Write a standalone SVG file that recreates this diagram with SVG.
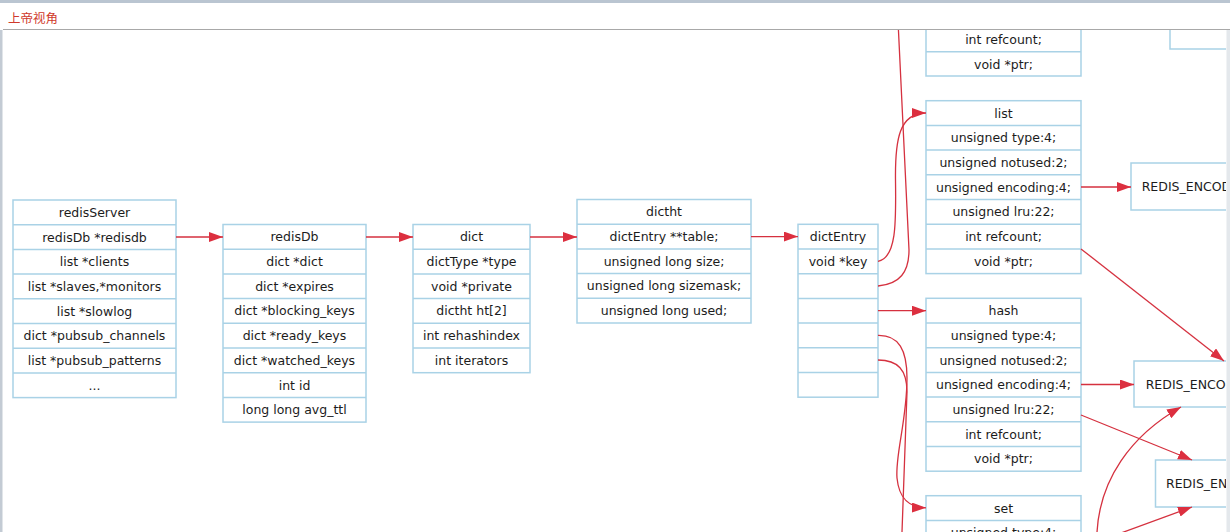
<svg xmlns="http://www.w3.org/2000/svg" width="1230" height="532" viewBox="0 0 1230 532">
<style>
.box{fill:#ffffff;stroke:#a9d2e6;stroke-width:1.5}
.sep{stroke:#a9d2e6;stroke-width:1.5}
.t{font-family:"DejaVu Sans","Liberation Sans",sans-serif;font-size:12.5px;fill:#1c1c1c;text-anchor:middle}
.tl{font-family:"DejaVu Sans","Liberation Sans",sans-serif;font-size:12.5px;fill:#1c1c1c}
.e{fill:none;stroke:#d5313f;stroke-width:1.3}
.title{font-family:"Noto Sans CJK SC","DejaVu Sans",sans-serif;font-size:12.5px;fill:#cf3a2c}
</style>
<defs>
<marker id="ah" viewBox="0 0 14 10" markerUnits="userSpaceOnUse" markerWidth="14" markerHeight="10" refX="14" refY="5" orient="auto">
<path d="M0,0 L14,5 L0,10 z" fill="#dc2f3f"/>
</marker>
<clipPath id="cr"><rect x="0" y="0" width="1226" height="532"/></clipPath>
</defs>
<rect x="0" y="0" width="1230" height="532" fill="#ffffff"/>
<g clip-path="url(#cr)">
<g id="redisServer">
<rect class="box" x="13" y="200" width="163" height="197.6"/>
<path class="sep" d="M13,224.7H176M13,249.4H176M13,274.1H176M13,298.8H176M13,323.5H176M13,348.2H176M13,372.9H176"/>
<text class="t" x="94.5" y="216.8">redisServer</text>
<text class="t" x="94.5" y="241.5">redisDb *redisdb</text>
<text class="t" x="94.5" y="266.2">list *clients</text>
<text class="t" x="94.5" y="290.9">list *slaves,*monitors</text>
<text class="t" x="94.5" y="315.6">list *slowlog</text>
<text class="t" x="94.5" y="340.3">dict *pubsub_channels</text>
<text class="t" x="94.5" y="365">list *pubsub_patterns</text>
<text class="t" x="94.5" y="389.7">...</text>
</g>
<g id="redisDb">
<rect class="box" x="223" y="224.5" width="143" height="197.6"/>
<path class="sep" d="M223,249.2H366M223,273.9H366M223,298.6H366M223,323.3H366M223,348H366M223,372.7H366M223,397.4H366"/>
<text class="t" x="294.5" y="241.3">redisDb</text>
<text class="t" x="294.5" y="266">dict *dict</text>
<text class="t" x="294.5" y="290.7">dict *expires</text>
<text class="t" x="294.5" y="315.4">dict *blocking_keys</text>
<text class="t" x="294.5" y="340.1">dict *ready_keys</text>
<text class="t" x="294.5" y="364.8">dict *watched_keys</text>
<text class="t" x="294.5" y="389.5">int id</text>
<text class="t" x="294.5" y="414.2">long long avg_ttl</text>
</g>
<g id="dict">
<rect class="box" x="413" y="224.5" width="117" height="148.2"/>
<path class="sep" d="M413,249.2H530M413,273.9H530M413,298.6H530M413,323.3H530M413,348H530"/>
<text class="t" x="471.5" y="241.3">dict</text>
<text class="t" x="471.5" y="266">dictType *type</text>
<text class="t" x="471.5" y="290.7">void *private</text>
<text class="t" x="471.5" y="315.4">dictht ht[2]</text>
<text class="t" x="471.5" y="340.1">int rehashindex</text>
<text class="t" x="471.5" y="364.8">int iterators</text>
</g>
<g id="dictht">
<rect class="box" x="577" y="199.5" width="174" height="123.5"/>
<path class="sep" d="M577,224.2H751M577,248.9H751M577,273.6H751M577,298.3H751"/>
<text class="t" x="664" y="216.3">dictht</text>
<text class="t" x="664" y="241">dictEntry **table;</text>
<text class="t" x="664" y="265.7">unsigned long size;</text>
<text class="t" x="664" y="290.4">unsigned long sizemask;</text>
<text class="t" x="664" y="315.1">unsigned long used;</text>
</g>
<g id="dictEntry">
<rect class="box" x="798" y="224.3" width="80" height="172.9"/>
<path class="sep" d="M798,249H878M798,273.7H878M798,298.4H878M798,323.1H878M798,347.8H878M798,372.5H878"/>
<text class="t" x="838" y="241.1">dictEntry</text>
<text class="t" x="838" y="265.8">void *key</text>
</g>
<g id="string">
<rect class="box" x="926" y="-22" width="155" height="98"/>
<path class="sep" d="M926,2.3H1081M926,27H1081M926,51.7H1081"/>
<text class="t" x="1003.5" y="43.8">int refcount;</text>
<text class="t" x="1003.5" y="68.5">void *ptr;</text>
</g>
<g id="list">
<rect class="box" x="926" y="100.7" width="155" height="172.9"/>
<path class="sep" d="M926,125.4H1081M926,150.1H1081M926,174.8H1081M926,199.5H1081M926,224.2H1081M926,248.9H1081"/>
<text class="t" x="1003.5" y="117.5">list</text>
<text class="t" x="1003.5" y="142.2">unsigned type:4;</text>
<text class="t" x="1003.5" y="166.9">unsigned notused:2;</text>
<text class="t" x="1003.5" y="191.6">unsigned encoding:4;</text>
<text class="t" x="1003.5" y="216.3">unsigned lru:22;</text>
<text class="t" x="1003.5" y="241">int refcount;</text>
<text class="t" x="1003.5" y="265.7">void *ptr;</text>
</g>
<g id="hash">
<rect class="box" x="926" y="298.3" width="155" height="172.9"/>
<path class="sep" d="M926,323H1081M926,347.7H1081M926,372.4H1081M926,397.1H1081M926,421.8H1081M926,446.5H1081"/>
<text class="t" x="1003.5" y="315.1">hash</text>
<text class="t" x="1003.5" y="339.8">unsigned type:4;</text>
<text class="t" x="1003.5" y="364.5">unsigned notused:2;</text>
<text class="t" x="1003.5" y="389.2">unsigned encoding:4;</text>
<text class="t" x="1003.5" y="413.9">unsigned lru:22;</text>
<text class="t" x="1003.5" y="438.6">int refcount;</text>
<text class="t" x="1003.5" y="463.3">void *ptr;</text>
</g>
<g id="set">
<rect class="box" x="926" y="495.7" width="155" height="80"/>
<path class="sep" d="M926,520.4H1081M926,545.1H1081"/>
<text class="t" x="1003.5" y="512.5">set</text>
<text class="t" x="1003.5" y="537.2">unsigned type:4;</text>
</g>
<g id="topright">
<rect class="box" x="1170" y="-40" width="120" height="89"/>
</g>
<g id="enc1">
<rect class="box" x="1131" y="163" width="130" height="47"/>
<text class="tl" x="1141.7" y="191">REDIS_ENCOD</text>
</g>
<g id="enc2">
<rect class="box" x="1134" y="361" width="130" height="46"/>
<text class="tl" x="1145.7" y="388.5">REDIS_ENCO</text>
</g>
<g id="enc3">
<rect class="box" x="1155.5" y="460" width="130" height="47"/>
<text class="tl" x="1166" y="488">REDIS_EN</text>
</g>
<g id="connectors">
<path class="e" marker-end="url(#ah)" d="M176,237H223"/>
<path class="e" marker-end="url(#ah)" d="M366,237H413"/>
<path class="e" marker-end="url(#ah)" d="M530,237H577"/>
<path class="e" marker-end="url(#ah)" d="M751,236.6H798"/>
<path class="e" marker-end="url(#ah)" d="M878,261.3C897,258 896,220 895.5,180C895,140 899,113 926,113"/>
<path class="e" d="M878,286C900,284 909,272 909,250L897,0"/>
<path class="e" marker-end="url(#ah)" d="M878,310.7H926"/>
<path class="e" marker-end="url(#ah)" d="M878,335.4C899,335 907,350 907,378C907,420 895,455 897,478C899,498 908,507.5 926,507.8"/>
<path class="e" d="M878,360C898,360 907,370 907,392L902,532"/>
<path class="e" marker-end="url(#ah)" d="M1081,187H1131"/>
<path class="e" marker-end="url(#ah)" d="M1081,248.9L1224,361"/>
<path class="e" marker-end="url(#ah)" d="M1081,384.5H1134"/>
<path class="e" marker-end="url(#ah)" d="M1081,415L1192,460"/>
<path class="e" marker-end="url(#ah)" d="M1097,532C1100,480 1130,436 1181,407"/>
<path class="e" marker-end="url(#ah)" d="M1121,533L1192,507"/>
</g>
</g>
<g id="window">
<rect x="0" y="0" width="1230" height="29.5" fill="#ffffff"/>
<rect x="0" y="0" width="1230" height="3" fill="#bac5d1"/>
<line x1="3" y1="29.5" x2="1230" y2="29.5" stroke="#a8a8a8" stroke-width="1.2"/>
<rect x="0" y="30" width="2.5" height="502" fill="#c3cbd4"/>
<rect x="1226.5" y="30" width="3.5" height="502" fill="#e4e8ec"/>
<text class="title" x="8" y="22.5">上帝视角</text>
</g>
</svg>
